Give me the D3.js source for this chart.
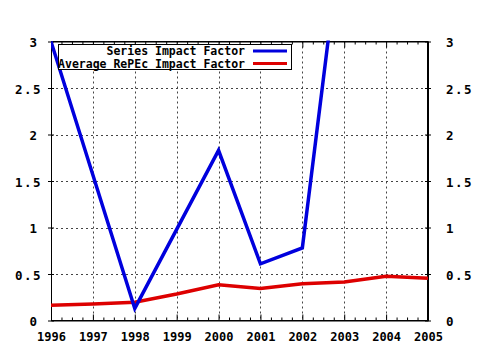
<!DOCTYPE html>
<html><head><meta charset="utf-8">
<script src="https://cdn.jsdelivr.net/npm/d3@7"></script>
<style>
body{margin:0;background:#fff;}
svg{display:block;}
text{font-family:"DejaVu Sans Mono",monospace;font-weight:bold;font-size:11.5px;fill:#000;}
.yl text{font-size:12.5px;}
.xl text{font-size:12px;}
</style></head>
<body>
<svg id="c" width="480" height="350"></svg>
<script>
const years = [1996,1997,1998,1999,2000,2001,2002,2003,2004,2005];
const seriesYears = [1996,1998,2000,2001,2002,2003];
const seriesImpact = [3.0,0.13,1.83,0.61,0.78,4.4];
const avgYears = [1996,1997,1998,1999,2000,2001,2002,2003,2004,2005];
const avgImpact = [0.165,0.177,0.196,0.285,0.385,0.345,0.395,0.415,0.475,0.453];
const yTicks = [0,0.5,1,1.5,2,2.5,3];
const yTickLabels = ["0","0.5","1","1.5","2","2.5","3"];
const seriesNames = ["Series Impact Factor","Average RePEc Impact Factor"];

const svg = d3.select("#c");
const L=51, R=428, T=41.5, B=320.5;
const x = d3.scaleLinear().domain([1996,2005]).range([L,R]);
const y = d3.scaleLinear().domain([0,3]).range([B,T]);

svg.append("rect").attr("width",480).attr("height",350).attr("fill","#fff");

// grid
const grid = svg.append("g").attr("stroke","#444").attr("stroke-width",1).attr("stroke-dasharray","2,3");
years.slice(1,-1).forEach(v=>{
  grid.append("line").attr("x1",Math.round(x(v))+0.5).attr("x2",Math.round(x(v))+0.5).attr("y1",T).attr("y2",B);
});
yTicks.slice(1,-1).forEach(v=>{
  grid.append("line").attr("y1",Math.round(y(v))+0.5).attr("y2",Math.round(y(v))+0.5).attr("x1",L).attr("x2",R);
});

// axes via d3
const fmtY = (d,i)=>yTickLabels[yTicks.indexOf(d)];
const axB = d3.axisBottom(x).tickValues(years).tickFormat(d3.format("d")).tickSizeInner(-6).tickSizeOuter(0).tickPadding(13);
const gB = svg.append("g").attr("class","xl").attr("transform",`translate(0,${B})`).call(axB);
const axT = d3.axisTop(x).tickValues(years).tickFormat("").tickSizeInner(-6).tickSizeOuter(0);
const gT = svg.append("g").attr("transform",`translate(0,${T})`).call(axT);
const minor = d3.range(0,36).map(i=>1996+i*0.25).filter(v=>!years.includes(v));
svg.append("g").attr("transform",`translate(0,${B})`).call(d3.axisBottom(x).tickValues(minor).tickFormat("").tickSizeInner(-3).tickSizeOuter(0)).select(".domain").remove();
svg.append("g").attr("transform",`translate(0,${T})`).call(d3.axisTop(x).tickValues(minor).tickFormat("").tickSizeInner(-3).tickSizeOuter(0)).select(".domain").remove();

const axL = d3.axisLeft(y).tickValues(yTicks).tickFormat(fmtY).tickSizeInner(3).tickSizeOuter(0).tickPadding(6);
const gL = svg.append("g").attr("class","yl").attr("transform",`translate(${L},0)`).call(axL);
const axR = d3.axisRight(y).tickValues(yTicks).tickFormat(fmtY).tickSizeInner(3).tickSizeOuter(0).tickPadding(15);
const gR = svg.append("g").attr("class","yl").attr("transform",`translate(${R},0)`).call(axR);
[gL,gR].forEach(g=>{
  g.selectAll(".tick line").attr("x1",-3).attr("x2",3);
});
[gB,gT,gL,gR].forEach(g=>{
  g.attr("font-family",null).attr("font-size",null);
  g.selectAll("path.domain").attr("stroke","#000");
  g.selectAll(".tick line").attr("stroke","#000");
});
gL.selectAll(".tick text").attr("dx",d=>String(d).includes(".")?0:-5).attr("letter-spacing",d=>String(d).includes(".")?"1.5px":null).attr("dy","0.4em");
gR.selectAll(".tick text").attr("letter-spacing",d=>String(d).includes(".")?"1.5px":null).attr("dy","0.4em");
gB.selectAll(".tick text").attr("dy","0.65em");

// frame
svg.append("rect").attr("x",L+0.5).attr("y",T).attr("width",R-L-1).attr("height",B-T).attr("fill","none").attr("stroke","#000");

// clip
svg.append("clipPath").attr("id","clip").append("rect").attr("x",L).attr("y",T-1).attr("width",R-L).attr("height",B-T+1);
const line = d3.line().x(d=>x(d[0])).y(d=>y(d[1]));
const plot = svg.append("g").attr("clip-path","url(#clip)");
plot.append("path").datum(avgYears.map((v,i)=>[v,avgImpact[i]])).attr("d",line).attr("fill","none").attr("stroke","#dd0000").attr("stroke-width",3.5).attr("stroke-linejoin","miter");
plot.append("path").datum(seriesYears.map((v,i)=>[v,seriesImpact[i]])).attr("d",line).attr("fill","none").attr("stroke","#0000dd").attr("stroke-width",3.5).attr("stroke-linejoin","miter");

// legend
const leg = svg.append("g");
leg.append("rect").attr("x",58.5).attr("y",44.5).attr("width",233).attr("height",25).attr("fill","#fff").attr("stroke","#000");
const colors = ["#0000dd","#dd0000"];
seriesNames.forEach((n,i)=>{
  const yy = 51 + i*12.5;
  leg.append("text").attr("x",245).attr("y",yy+4).attr("text-anchor","end").text(n);
  leg.append("line").attr("x1",253).attr("x2",287).attr("y1",yy).attr("y2",yy).attr("stroke",colors[i]).attr("stroke-width",3);
});
</script>
</body></html>
